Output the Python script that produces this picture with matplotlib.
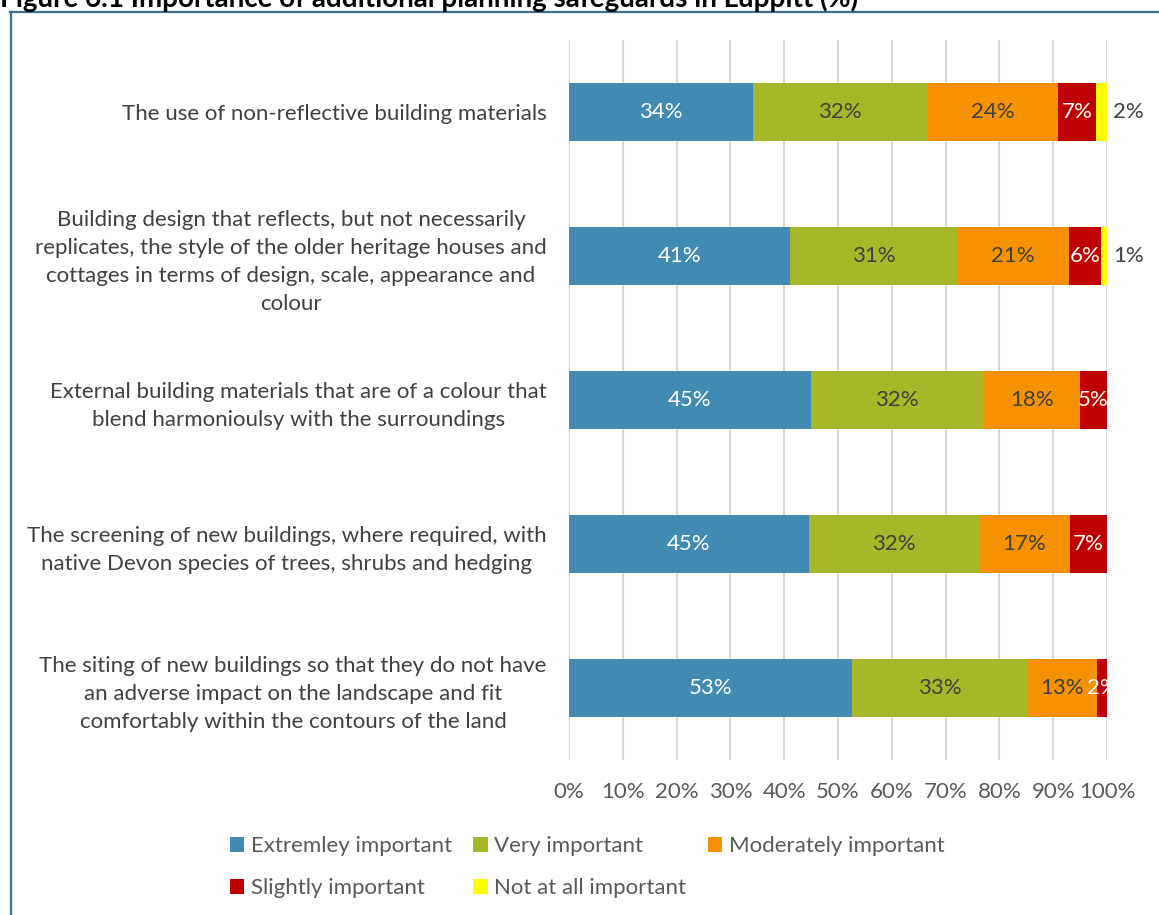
import matplotlib
matplotlib.use('Agg')
import matplotlib.pyplot as plt
from matplotlib.lines import Line2D
from matplotlib.patches import Patch
import numpy as np

plt.rcParams['font.family'] = ['Lato', 'DejaVu Sans']

# statements, top to bottom
categories = [
    "The use of non-reflective building materials",
    "Building design that reflects, but not necessarily\nreplicates, the style of the older heritage houses and\ncottages in terms of design, scale, appearance and\ncolour",
    "External building materials that are of a colour that\nblend harmonioulsy with the surroundings",
    "The screening of new buildings, where required, with\nnative Devon species of trees, shrubs and hedging",
    "The siting of new buildings so that they do not have\nan adverse impact on the landscape and fit\ncomfortably within the contours of the land",
]

# percentages
extremely = [34.2, 41.1, 45.0, 44.6, 52.6]
very = [32.4, 31.0, 32.0, 31.6, 32.6]
moderately = [24.3, 20.8, 18.0, 16.9, 13.0]
slightly = [7.0, 6.0, 5.0, 6.9, 1.8]
not_at_all = [2.1, 1.1, 0.0, 0.0, 0.0]

series_names = ["Extremley important", "Very important", "Moderately important",
                "Slightly important", "Not at all important"]
colors = ["#418AB3", "#A6B727", "#F69200", "#C00000", "#FFFF00"]
label_colors = ["white", "#404040", "#404040", "white", "#404040"]

ticks = [0, 10, 20, 30, 40, 50, 60, 70, 80, 90, 100]
tick_labels = ["0%", "10%", "20%", "30%", "40%", "50%", "60%", "70%", "80%", "90%", "100%"]

W, H = 1159, 915
FS = 16
fig = plt.figure(figsize=(W / 100, H / 100), dpi=100)
ax = fig.add_axes([569 / W, 1 - 760 / H, (1107 - 569) / W, 720 / H])

y = np.arange(len(categories))
left = np.zeros(len(categories))
all_series = [extremely, very, moderately, slightly, not_at_all]
handles = []
for vals, name, col, lcol in zip(all_series, series_names, colors, label_colors):
    vals = np.array(vals)
    ax.barh(y, vals, left=left, height=0.4, color=col, edgecolor='none', zorder=3)
    for i, v in enumerate(vals):
        if v <= 0:
            continue
        txt = "%d%%" % int(round(v))
        if name == "Not at all important":
            ax.text(left[i] + v + 1.1, y[i], txt, ha='left', va='center',
                    color='#404040', fontsize=FS, zorder=4)
        else:
            ax.text(left[i] + v / 2, y[i], txt, ha='center', va='center',
                    color=lcol, fontsize=FS, zorder=4)
    left = left + vals
    handles.append(Patch(facecolor=col, edgecolor='none', label=name))

ax.set_xlim(0, 100)
ax.set_ylim(len(categories) - 0.5, -0.5)
ax.set_xticks(ticks, labels=tick_labels)
ax.set_yticks(y, labels=categories)
for lab in ax.get_yticklabels():
    lab.set_multialignment('center')
    lab.set_linespacing(1.5)
ax.tick_params(axis='both', length=0, labelsize=FS, colors='#404040')
ax.tick_params(axis='y', pad=16)
ax.tick_params(axis='x', pad=16, colors='#595959')
ax.grid(axis='x', color='#D9D9D9', linewidth=1.5, zorder=0)
for s in ax.spines.values():
    s.set_visible(False)

# legend, row-wise order
order = [0, 3, 1, 4, 2]
leg = fig.legend([handles[k] for k in order], [series_names[k] for k in order],
                 ncol=3, loc='upper left', bbox_to_anchor=(230 / W, 1 - 836 / H),
                 frameon=False, fontsize=FS, handlelength=0.65, handleheight=0.65,
                 handletextpad=0.3, columnspacing=0.95, labelspacing=1.0,
                 borderpad=0, borderaxespad=0, labelcolor='#595959')

# frame and clipped title
fig.add_artist(Line2D([10.5 / W, 10.5 / W], [0, 1 - 12 / H], color='#3B6E8F', linewidth=1.6))
fig.add_artist(Line2D([10 / W, 1], [1 - 12 / H, 1 - 12 / H], color='#3B6E8F', linewidth=1.6))
fig.text(0, 1 - 6.5 / H, "Figure 6.1 Importance of additional planning safeguards in Luppitt (%)",
         ha='left', va='baseline', fontsize=20, fontweight='bold', color='black')

fig.savefig('out.png', dpi=100)
